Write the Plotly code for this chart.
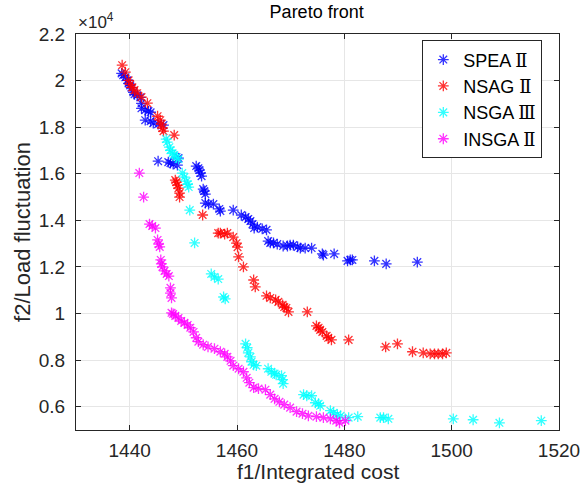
import numpy as np
import plotly.graph_objects as go

# Pareto fronts: f1 = integrated cost, f2 = load fluctuation
spea2_f1 = [1438.5, 1438.8, 1439.2, 1439.6, 1439.8, 1440.1, 1440.3, 1440.7, 1440.9, 1441.4,
            1442.0, 1442.2, 1442.2, 1442.9, 1443.5, 1443.9, 1442.9, 1443.9, 1444.4, 1445.3,
            1446.3, 1445.3, 1447.2, 1447.6, 1448.1, 1448.9, 1448.7, 1449.1, 1452.4, 1452.8,
            1453.0, 1453.2, 1453.4, 1453.7, 1453.9, 1454.1, 1454.1, 1454.7, 1455.6, 1456.7,
            1456.9, 1459.3, 1460.8, 1461.6, 1462.1, 1462.5, 1462.9, 1463.2, 1463.8, 1464.7,
            1465.5, 1465.8, 1466.2, 1466.8, 1467.5, 1468.6, 1469.4, 1469.9, 1470.5, 1471.3,
            1471.8, 1472.7, 1473.9, 1475.9, 1476.1, 1478.1, 1480.6, 1481.1, 1481.5, 1485.6,
            1487.8, 1493.6]
spea2_f2 = [20310, 20230, 20140, 20010, 19880, 19790, 19700, 19500, 19410, 19370,
            19280, 19020, 18810, 18730, 18690, 18640, 18300, 18260, 18170, 18130,
            18090, 16540, 16500, 16460, 16410, 16370, 16710, 16670, 16330, 16240,
            16160, 16030, 15900, 15340, 15260, 15130, 14740, 14700, 14700, 14490,
            14400, 14440, 14230, 14140, 14060, 13970, 13840, 13670, 13710, 13630,
            13590, 13110, 13030, 13030, 12980, 12900, 12900, 12940, 12940, 12860,
            12810, 12810, 12810, 12560, 12510, 12560, 12260, 12300, 12300, 12260,
            12130, 12210]

nsag2_f1 = [1438.6, 1439.2, 1439.8, 1440.1, 1440.5, 1440.9, 1441.4, 1442.2, 1443.3, 1445.2,
            1445.7, 1445.9, 1446.1, 1446.3, 1448.3, 1448.5, 1448.7, 1448.9, 1449.1, 1449.3,
            1449.3, 1453.6, 1456.5, 1456.9, 1457.7, 1458.2, 1459.3, 1459.9, 1460.1, 1460.3,
            1461.2, 1463.1, 1463.4, 1465.5, 1466.2, 1467.2, 1467.7, 1468.5, 1468.8, 1469.2,
            1469.6, 1473.1, 1474.8, 1475.2, 1475.5, 1475.9, 1476.7, 1477.0, 1477.6, 1480.8,
            1487.7, 1489.9, 1492.7, 1494.7, 1496.0, 1496.8, 1497.5, 1498.3, 1499.0]
nsag2_f2 = [20660, 20360, 20010, 19840, 19710, 19590, 19460, 19290, 19030, 18470,
            18300, 18130, 17960, 17830, 17660, 15730, 15640, 15510, 15380, 15170,
            15000, 14230, 13450, 13450, 13410, 13450, 13280, 13020, 12850, 12430,
            12000, 11440, 11140, 10760, 10670, 10590, 10500, 10370, 10280, 10240,
            10070, 10070, 9470, 9390, 9300, 9210, 9040, 8960, 8870, 8870,
            8570, 8700, 8360, 8310, 8270, 8270, 8270, 8270, 8310]

nsga3_f1 = [1446.8, 1447.0, 1447.4, 1447.6, 1448.0, 1448.3, 1448.7, 1449.1, 1449.8, 1450.2,
            1450.6, 1450.8, 1451.0, 1451.2, 1452.1, 1455.2, 1455.8, 1456.5, 1457.5, 1457.8,
            1461.6, 1461.9, 1462.1, 1462.5, 1462.7, 1463.1, 1463.6, 1465.8, 1466.4, 1467.0,
            1467.3, 1468.3, 1468.5, 1468.6, 1472.4, 1473.0, 1473.9, 1474.6, 1475.2, 1475.5,
            1477.4, 1478.0, 1478.7, 1479.3, 1480.8, 1482.5, 1486.7, 1487.3, 1488.2, 1500.3,
            1504.0, 1508.9, 1516.7]
nsga3_f2 = [17490, 17360, 17140, 17010, 16880, 16800, 16710, 16630, 16030, 15860,
            15680, 15550, 15430, 14440, 13030, 11700, 11570, 11480, 10710, 10630,
            8700, 8530, 8310, 8140, 7930, 7800, 7760, 7630, 7500, 7420,
            7370, 7330, 7160, 6990, 6520, 6470, 6470, 6170, 6130, 6040,
            5830, 5740, 5660, 5610, 5530, 5570, 5530, 5530, 5480, 5480,
            5440, 5310, 5400]

insga2_f1 = [1441.8, 1442.6, 1443.7, 1444.2, 1444.8, 1445.2, 1445.4, 1445.6, 1445.8, 1445.9,
             1446.1, 1446.5, 1446.9, 1447.3, 1447.6, 1447.6, 1447.8, 1447.8, 1448.1, 1448.5,
             1449.1, 1449.6, 1450.2, 1450.8, 1451.3, 1451.9, 1452.4, 1452.8, 1453.7, 1454.6,
             1455.8, 1456.9, 1457.7, 1458.2, 1458.8, 1459.3, 1460.3, 1461.2, 1461.8, 1462.3,
             1463.1, 1464.0, 1465.3, 1466.2, 1467.0, 1467.9, 1468.8, 1469.9, 1471.1, 1472.2,
             1473.3, 1474.8, 1476.1, 1477.4, 1478.5, 1479.1, 1480.2]
insga2_f2 = [16030, 15000, 13840, 13760, 13670, 13160, 12980, 12860, 12300, 12130,
             12000, 11830, 11700, 11610, 11100, 10880, 10670, 10030, 9980, 9900,
             9810, 9680, 9600, 9510, 9390, 9210, 8960, 8790, 8660, 8570,
             8490, 8360, 8270, 8140, 7970, 7760, 7630, 7500, 7240, 7030,
             6820, 6780, 6730, 6520, 6340, 6210, 6090, 5960, 5790, 5700,
             5610, 5570, 5530, 5480, 5400, 5310, 5400]

NUM = "<span style='font-family:DejaVu Serif'>{}</span>"
series = [
    ("SPEA " + NUM.format("Ⅱ"), spea2_f1, spea2_f2, "rgb(0,0,255)"),
    ("NSAG " + NUM.format("Ⅱ"), nsag2_f1, nsag2_f2, "rgb(255,0,0)"),
    ("NSGA " + NUM.format("Ⅲ"), nsga3_f1, nsga3_f2, "rgb(0,255,255)"),
    ("INSGA " + NUM.format("Ⅱ"), insga2_f1, insga2_f2, "rgb(255,0,255)"),
]

SCALE = 1e4  # f2 axis is shown in units of 10^4

fig = go.Figure()
for name, xs, ys, color in series:
    fig.add_trace(go.Scatter(
        x=xs, y=np.array(ys) / SCALE, mode="markers", name=name,
        marker=dict(symbol="asterisk-open", size=9, opacity=0.8, color=color,
                    line=dict(color=color, width=1.3)),
    ))

axis_color = "#262626"
FONT = "Liberation Sans"
common = dict(showline=True, linecolor=axis_color, linewidth=1, mirror="ticks",
              ticks="inside", ticklen=5, tickcolor=axis_color,
              showgrid=True, gridcolor="#e6e6e6", gridwidth=1, zeroline=False,
              tickfont=dict(family=FONT, size=19, color=axis_color),
              automargin=False)

fig.update_xaxes(range=[1430, 1520], tick0=1440, dtick=20, ticklabelstandoff=3, **common)
fig.update_yaxes(range=[0.5, 2.2], tick0=0.2, dtick=0.2, ticklabelstandoff=6,
                 title=dict(text="f2/Load fluctuation", standoff=2,
                            font=dict(family=FONT, size=22, color=axis_color)),
                 **common)

# x-axis label placed just under the tick labels
fig.add_annotation(text="f1/Integrated cost", xref="paper", yref="paper", x=0.5, y=0,
                   xanchor="center", yanchor="middle", yshift=-41, showarrow=False,
                   font=dict(family=FONT, size=21, color=axis_color))

fig.add_annotation(text="×10<sup>4</sup>", xref="paper", yref="paper", x=0, y=1,
                   xanchor="left", yanchor="bottom", showarrow=False, yshift=0,
                   font=dict(family=FONT, size=17, color=axis_color))

fig.update_layout(
    width=581, height=487,
    margin=dict(l=76, r=22, t=34, b=57),
    paper_bgcolor="white", plot_bgcolor="white",
    title=dict(text="Pareto front", x=0.545, xanchor="center", y=0.975, yanchor="middle",
               font=dict(family=FONT, size=18, color="black")),
    legend=dict(x=0.717, y=0.984, xanchor="left", yanchor="top",
                bgcolor="white", bordercolor=axis_color, borderwidth=1,
                font=dict(family=FONT, size=18, color="black"),
                itemwidth=30, tracegroupgap=0),
    showlegend=True,
)

fig.write_html("out.html")
